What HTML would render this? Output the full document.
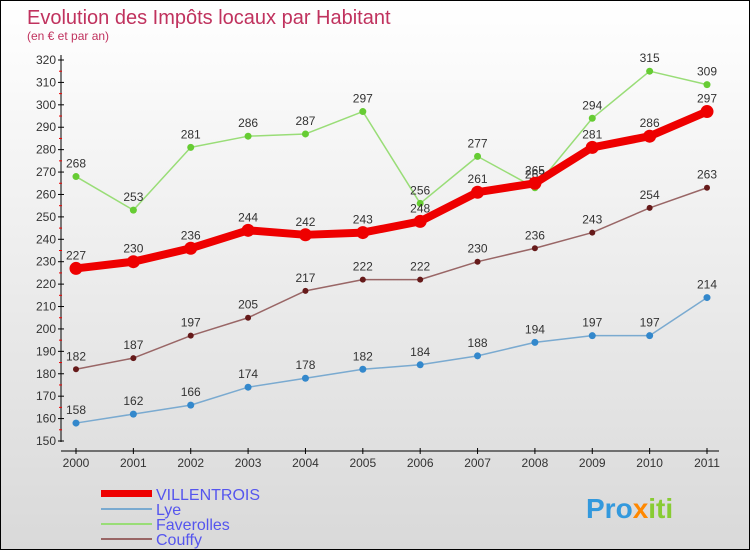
<!DOCTYPE html>
<html><head><meta charset="utf-8"><style>
body{margin:0;}
#c{width:750px;height:550px;position:relative;overflow:hidden;background:linear-gradient(#fff,#d9d9d9);border:1px solid #000;box-sizing:border-box;font-family:"Liberation Sans",sans-serif;}
svg{position:absolute;left:0;top:0}
</style></head><body>
<div id="c">
<svg width="750" height="550" id="s">
<text x="26" y="23" font-size="20" fill="#c0325e">Evolution des Impôts locaux par Habitant</text>
<text x="26" y="39" font-size="12" fill="#c0325e">(en € et par an)</text>
<g id="axes"></g><g id="series"></g>
<g font-weight="300">
<rect x="100" y="489" width="51" height="7" fill="#e00"/>
<text x="155" y="499" font-size="16" fill="#5555ee">VILLENTROIS</text>
<rect x="100" y="507" width="51" height="2" fill="#7aaad0"/>
<text x="155" y="514" font-size="16" fill="#5555ee">Lye</text>
<rect x="100" y="522" width="51" height="2" fill="#99dd77"/>
<text x="155" y="529" font-size="16" fill="#5555ee">Faverolles</text>
<rect x="100" y="537" width="51" height="2" fill="#996666"/>
<text x="155" y="544" font-size="16" fill="#5555ee">Couffy</text>
</g>
<text x="585" y="517" font-size="28" font-weight="bold"><tspan fill="#3399dd">Pro</tspan><tspan fill="#ff8800">x</tspan><tspan fill="#88cc33">iti</tspan></text>
</svg></div>
<script>
const years=["2000","2001","2002","2003","2004","2005","2006","2007","2008","2009","2010","2011"];
const villentrois=[227,230,236,244,242,243,248,261,265,281,286,297];
const lye=[158,162,166,174,178,182,184,188,194,197,197,214];
const faverolles=[268,253,281,286,287,297,256,277,263,294,315,309];
const couffy=[182,187,197,205,217,222,222,230,236,243,254,263];
const yTicks=[150,160,170,180,190,200,210,220,230,240,250,260,270,280,290,300,310,320];
const NS="http://www.w3.org/2000/svg";
const xs=i=>75+i*(706-75)/11;
const ys=v=>440-(v-150)*(440-59)/170;
function mk(t,a,p){const e=document.createElementNS(NS,t);for(const k in a)e.setAttribute(k,a[k]);p.appendChild(e);return e;}
const ax=document.getElementById('axes'),sg=document.getElementById('series');
const yl=mk('line',{x1:60,y1:54,x2:60,y2:441,stroke:'#000','stroke-width':1},ax);


const xl=mk('line',{x1:60,y1:450,x2:718,y2:450,stroke:'#000','stroke-width':1},ax);


yTicks.forEach((v,i)=>{
 mk('line',{x1:57,y1:ys(v),x2:63,y2:ys(v),stroke:'#000'},ax);
 if(i<yTicks.length-1)mk('line',{x1:58,y1:ys(v+5),x2:61,y2:ys(v+5),stroke:'#e00'},ax);
 const t=mk('text',{x:55,y:ys(v)+4,'font-size':12,'text-anchor':'end',fill:'#333'},ax);
 t.textContent=v;
 
 
});
years.forEach((y,i)=>{
 mk('line',{x1:xs(i),y1:447,x2:xs(i),y2:453,stroke:'#000'},ax);
 const t=mk('text',{x:xs(i),y:466,'font-size':12,'text-anchor':'middle',fill:'#333'},ax);
 t.textContent=y;
 
 
});
function series(d,name,col,dot,w,r){
 const g=mk('g',{},sg);
 
 
 const pl=mk('polyline',{points:d.map((v,i)=>xs(i)+','+ys(v)).join(' '),fill:'none',stroke:col,'stroke-width':w,'stroke-linejoin':'round'},g);
 
 
 d.forEach((v,i)=>{
  const c=mk('circle',{cx:xs(i),cy:ys(v),r:r,fill:dot},g);
  
  
  const t=mk('text',{x:xs(i),y:ys(v)-9,'font-size':12,'text-anchor':'middle',fill:'#333'},g);
  t.textContent=v;
  
  
 });
}
series(lye,'lye','#7aaad0','#3388cc',1.5,3.5);
series(couffy,'couffy','#996666','#661a1a',1.5,3);
series(faverolles,'faverolles','#99dd77','#66cc33',1.5,3.5);
series(villentrois,'villentrois','#ee0000','#ee0000',8,6.5);
</script>
</body></html>
